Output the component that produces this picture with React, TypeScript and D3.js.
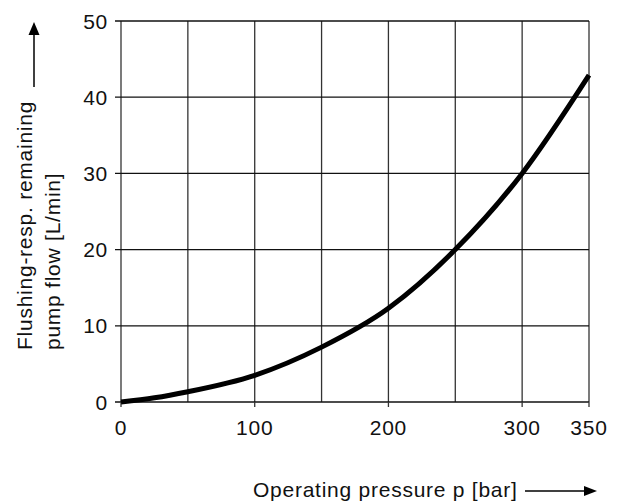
import React from "react";
import * as d3 from "d3";

// pressure [bar] vs flushing / remaining pump flow [L/min]
const pressure = [0, 25, 50, 100, 150, 200, 250, 300, 350];
const flow = [0, 0.55, 1.35, 3.5, 7.2, 12.3, 20.0, 30.0, 42.9];

const xGrid = [0, 50, 100, 150, 200, 250, 300, 350];
const xTickLabels = [0, 100, 200, 300, 350];
const yTicks = [0, 10, 20, 30, 40, 50];

const xTitle = "Operating pressure p [bar]";
const yTitle = ["Flushing-resp. remaining", "pump flow [L/min]"];

const W = 620;
const H = 502;
const margin = { top: 21, right: 31, bottom: 100, left: 121 };

export default function App() {
  const x = d3
    .scaleLinear()
    .domain([0, 350])
    .range([margin.left, W - margin.right]);
  const y = d3
    .scaleLinear()
    .domain([0, 50])
    .range([H - margin.bottom, margin.top]);

  const points = pressure.map((p, i) => [p, flow[i]] as [number, number]);
  const line = d3
    .line<[number, number]>()
    .x((d) => x(d[0]))
    .y((d) => y(d[1]))
    .curve(d3.curveMonotoneX);

  const font = {
    fontFamily: "'Liberation Sans', Arial, sans-serif",
    fontSize: 21,
    letterSpacing: 0.75,
    fill: "#111",
  };

  return (
    <div style={{ position: "absolute", left: 0, top: 0 }}>
      <svg width={W} height={H} style={{ display: "block" }}>
        <rect width={W} height={H} fill="#fff" />

        {/* grid */}
        {xGrid.map((v) => (
          <line
            key={"gx" + v}
            x1={x(v)}
            x2={x(v)}
            y1={y(50)}
            y2={y(0)}
            stroke="#333"
            strokeWidth={1.3}
          />
        ))}
        {yTicks.map((v) => (
          <line
            key={"gy" + v}
            x1={x(0) - 6}
            x2={x(350)}
            y1={y(v)}
            y2={y(v)}
            stroke="#111"
            strokeWidth={1.3}
          />
        ))}
        {xTickLabels.map((v) => (
          <line
            key={"tx" + v}
            x1={x(v)}
            x2={x(v)}
            y1={y(0)}
            y2={y(0) + 5}
            stroke="#333"
            strokeWidth={1.3}
          />
        ))}

        {/* curve */}
        <path
          d={line(points) || ""}
          fill="none"
          stroke="#000"
          strokeWidth={5}
        />

        {/* tick labels */}
        {yTicks.map((v) => (
          <text
            key={"ly" + v}
            x={108}
            y={y(v) + 7.5}
            textAnchor="end"
            {...font}
          >
            {v}
          </text>
        ))}
        {xTickLabels.map((v) => (
          <text
            key={"lx" + v}
            x={x(v)}
            y={435}
            textAnchor="middle"
            {...font}
          >
            {v}
          </text>
        ))}

        {/* axis titles */}
        <text x={253} y={497} {...font}>
          {xTitle}
        </text>
        <line x1={525} x2={587} y1={491} y2={491} stroke="#000" strokeWidth={1.5} />
        <path d="M597,491 L584,486 L584,496 Z" fill="#000" />

        <g transform="translate(0,350) rotate(-90)">
          <text x={0} y={32} {...font}>
            {yTitle[0]}
          </text>
          <text x={0} y={60} {...font}>
            {yTitle[1]}
          </text>
        </g>
        <line x1={34} x2={34} y1={32} y2={87} stroke="#000" strokeWidth={1.5} />
        <path d="M34,22 L28.5,35 L39.5,35 Z" fill="#000" />
      </svg>
    </div>
  );
}
